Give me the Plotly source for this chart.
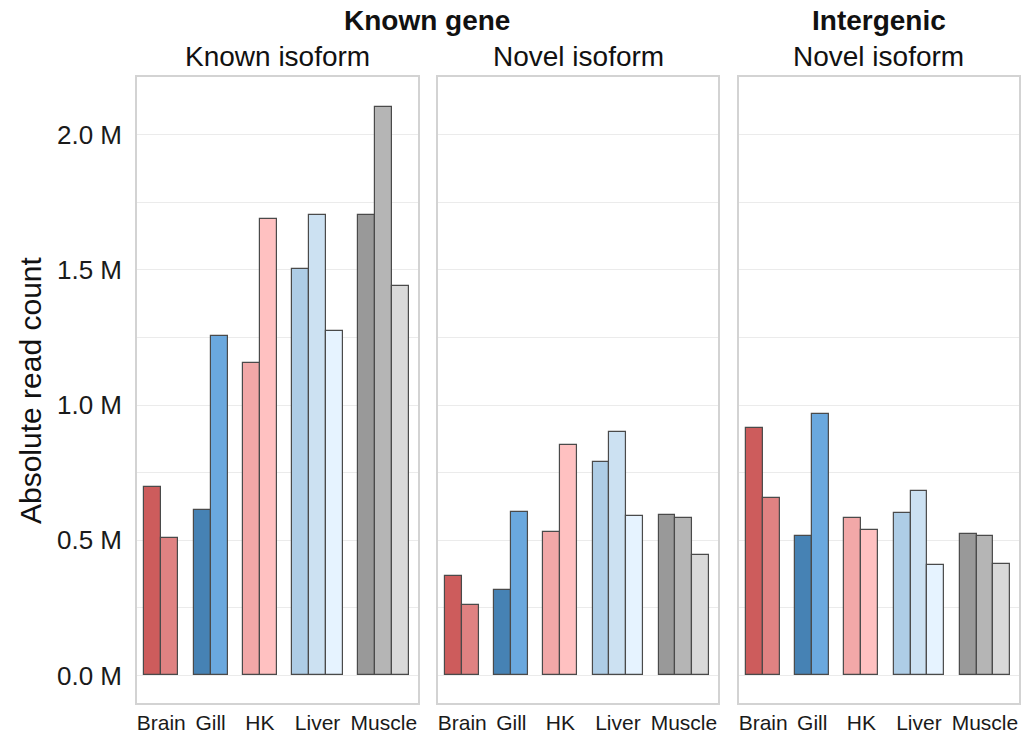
import plotly.graph_objects as go

# ---------------- data (read counts, millions) ----------------
tissues = ["Brain", "Gill", "HK", "Liver", "Muscle"]
replicates = [2, 2, 2, 3, 3]

known_gene_known_isoform = [0.698, 0.509, 0.611, 1.256, 1.154, 1.686,
                            1.502, 1.701, 1.274, 1.702, 2.103, 1.439]
known_gene_novel_isoform = [0.369, 0.259, 0.315, 0.604, 0.530, 0.851,
                            0.790, 0.901, 0.588, 0.593, 0.583, 0.445]
intergenic_novel_isoform = [0.916, 0.655, 0.515, 0.966, 0.583, 0.537,
                            0.602, 0.683, 0.410, 0.522, 0.515, 0.413]

panel_titles = ["Known isoform", "Novel isoform", "Novel isoform"]
group_titles = ["Known gene", "Intergenic"]

y_tick_values = [0, 0.25, 0.5, 0.75, 1.0, 1.25, 1.5, 1.75, 2.0]
y_tick_labels = ["0.0 M", "", "0.5 M", "", "1.0 M", "", "1.5 M", "", "2.0 M"]

bar_colors = ["#CD5C5C", "#E08282",
              "#4682B4", "#6AA8DE",
              "#F2A8A8", "#FFC1C1",
              "#AECDE6", "#CCE1F2", "#E6F3FF",
              "#999999", "#B5B5B5", "#D9D9D9"]

# ---------------- layout helpers ----------------
BAR_W = 1.0
GAP = 0.9
positions, centers = [], []
start = 0.0
for n in replicates:
    pos = [start + BAR_W * (i + 0.5) for i in range(n)]
    positions += pos
    centers.append(start + BAR_W * n / 2)
    start += BAR_W * n + GAP
x_end = start - GAP
x_range = [-0.43, x_end + 0.51]
y_range = [-0.1017, 2.2126]

FONT = "Arial, Liberation Sans, Helvetica, sans-serif"
domains = [[0.0, 0.3186], [0.3413, 0.6587], [0.6825, 1.0]]
series = [known_gene_known_isoform, known_gene_novel_isoform, intergenic_novel_isoform]

fig = go.Figure()
for i, vals in enumerate(series):
    sfx = "" if i == 0 else str(i + 1)
    fig.add_trace(go.Bar(
        x=positions, y=vals, width=BAR_W,
        marker=dict(color=bar_colors, line=dict(color="#4a4a4a", width=1.2)),
        xaxis="x" + sfx, yaxis="y" + sfx, showlegend=False,
    ))
    fig.layout["xaxis" + sfx] = dict(
        domain=domains[i], range=x_range, anchor="y" + sfx,
        tickvals=centers, ticktext=tissues,
        tickfont=dict(size=21, color="#1a1a1a", family=FONT),
        ticks="", ticklen=0,
        showgrid=False, zeroline=False, automargin=False,
        showline=True, mirror=True, linecolor="#D3D3D3", linewidth=1.6,
        fixedrange=True,
    )
    yax = dict(
        domain=[0, 1], range=y_range, anchor="x" + sfx,
        tickvals=y_tick_values, ticktext=y_tick_labels if i == 0 else [""] * len(y_tick_values),
        tickfont=dict(size=26, color="#1a1a1a", family=FONT),
        ticks="outside", ticklen=8, tickcolor="rgba(0,0,0,0)",
        showgrid=True, gridcolor="#EBEBEB", gridwidth=1.2, zeroline=False, automargin=False,
        showline=True, mirror=True, linecolor="#D3D3D3", linewidth=1.6,
        fixedrange=True,
    )
    if i > 0:
        yax["matches"] = "y"
        yax["showticklabels"] = False
    fig.layout["yaxis" + sfx] = yax

# titles
for i, t in enumerate(panel_titles):
    fig.add_annotation(text=t, xref="paper", yref="paper",
                       x=sum(domains[i]) / 2, y=1.032, xanchor="center", yanchor="middle",
                       showarrow=False, font=dict(size=28, color="#111111", family=FONT))
fig.add_annotation(text="<b>%s</b>" % group_titles[0], xref="paper", yref="paper",
                   x=(domains[0][0] + domains[1][1]) / 2, y=1.091, xanchor="center", yanchor="middle",
                   showarrow=False, font=dict(size=28, color="#111111", family=FONT))
fig.add_annotation(text="<b>%s</b>" % group_titles[1], xref="paper", yref="paper",
                   x=sum(domains[2]) / 2, y=1.091, xanchor="center", yanchor="middle",
                   showarrow=False, font=dict(size=28, color="#111111", family=FONT))
fig.add_annotation(text="Absolute read count", xref="paper", yref="paper",
                   x=-0.1213, y=0.5, xanchor="center", yanchor="middle", textangle=-90,
                   showarrow=False, font=dict(size=30, color="#111111", family=FONT))

fig.update_layout(
    width=1022, height=736,
    margin=dict(l=137, r=3, t=77, b=33),
    paper_bgcolor="white", plot_bgcolor="white",
    bargap=0, font=dict(family=FONT),
)

fig.write_html("out.html")
